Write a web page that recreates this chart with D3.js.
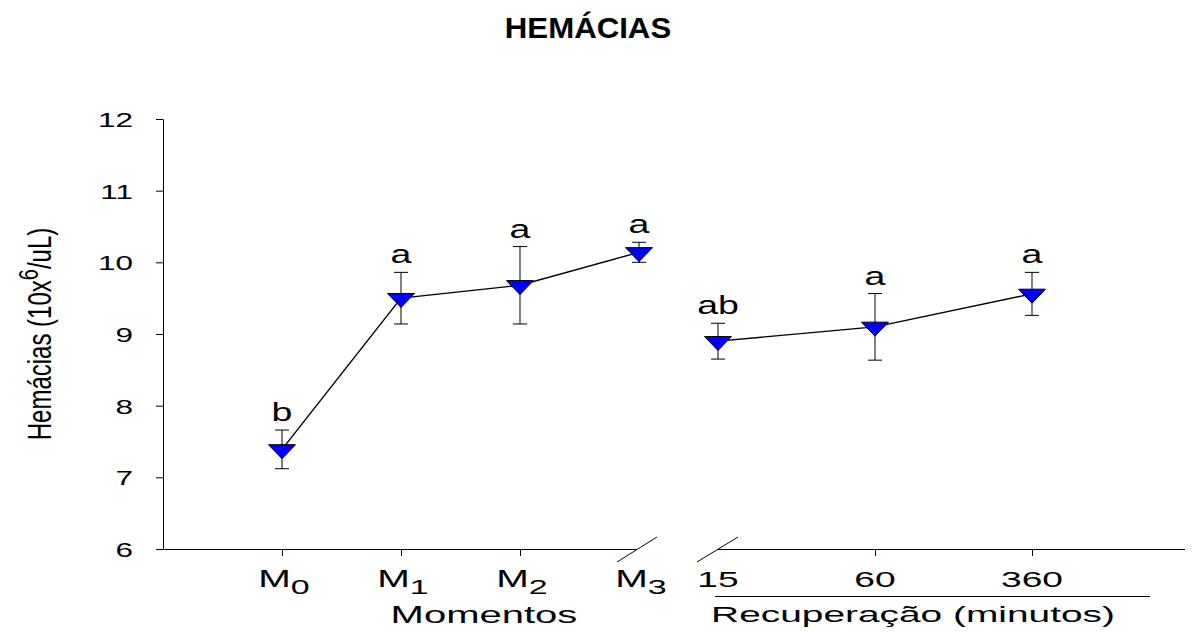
<!DOCTYPE html>
<html>
<head>
<meta charset="utf-8">
<script src="https://cdn.jsdelivr.net/npm/d3@7"></script>
<style>
  html, body { margin: 0; padding: 0; background: #fff; }
  svg { display: block; font-family: "Liberation Sans", Arial, Helvetica, sans-serif; }
</style>
</head>
<body>
<svg id="chart" width="1199" height="633"></svg>
<script>
// Hemácias: mean ± error over exercise moments and recovery times
const moments = ["M0", "M1", "M2", "M3"];
const momentSubs = ["0", "1", "2", "3"];
const momentMeans = [7.39, 9.50, 9.68, 10.14];
const momentErrs = [0.27, 0.36, 0.54, 0.14];
const momentLetters = ["b", "a", "a", "a"];

const recovery = ["15", "60", "360"];
const recoveryMeans = [8.90, 9.10, 9.56];
const recoveryErrs = [0.25, 0.465, 0.30];
const recoveryLetters = ["ab", "a", "a"];

const yTicks = [6, 7, 8, 9, 10, 11, 12];

const svg = d3.select("#chart");

// layout
const axisX = 163, axisY = 549, plotTop = 119;
const leftStart = axisX, leftEnd = 637;
const rightStart = 717, rightEnd = 1185;

const y = d3.scaleLinear().domain([6, 12]).range([axisY, plotTop]);
const xL = d3.scalePoint().domain(moments).range([282, 639]);
const xR = d3.scalePoint().domain(recovery).range([718, 1032]);

// horizontally stretched text helper
function stext(g, x, yy, str, size, sx, anchor) {
  return g.append("text")
    .attr("transform", `translate(${x},${yy}) scale(${sx},1)`)
    .attr("text-anchor", anchor || "middle")
    .attr("font-size", size)
    .attr("fill", "#000")
    .text(str);
}

// title
stext(svg, 588, 38, "HEMÁCIAS", 30, 1.04).attr("font-weight", "bold");

// y axis
const yAxis = svg.append("g")
  .attr("transform", `translate(${axisX},0)`)
  .call(d3.axisLeft(y).tickValues(yTicks).tickSize(7).tickSizeOuter(0).tickFormat(d3.format("d")));
yAxis.select(".domain").attr("stroke", "#000").attr("stroke-width", 1);
yAxis.selectAll(".tick line").attr("stroke", "#000");
yAxis.selectAll(".tick text")
  .attr("x", null).attr("dy", null)
  .attr("transform", "translate(-30,7.5) scale(1.5,1)")
  .attr("text-anchor", "end")
  .attr("font-size", 21)
  .attr("font-family", "Liberation Sans, Arial, sans-serif")
  .attr("fill", "#000");

// y axis title (rotated, glyphs widened across the baseline)
const yt = svg.append("text")
  .attr("transform", `translate(51,334) rotate(-90) scale(1,1.35)`)
  .attr("text-anchor", "middle")
  .attr("font-size", 24)
  .attr("fill", "#000");
yt.append("tspan").text("Hemácias (10x");
yt.append("tspan").attr("font-size", 20).attr("dy", -10).text("6");
yt.append("tspan").attr("dy", 10).text("/uL)");

// x axis segments
const axes = svg.append("g").attr("stroke", "#000").attr("stroke-width", 1);
axes.append("line").attr("x1", leftStart).attr("x2", leftEnd).attr("y1", axisY + 0.5).attr("y2", axisY + 0.5);
axes.append("line").attr("x1", rightStart).attr("x2", rightEnd).attr("y1", axisY + 0.5).attr("y2", axisY + 0.5);
// break marks
axes.append("line").attr("x1", 617).attr("y1", 562).attr("x2", 657).attr("y2", 537);
axes.append("line").attr("x1", 697).attr("y1", 562).attr("x2", 738).attr("y2", 537);

// ticks (the break ends carry no tick)
moments.slice(0, 3).forEach(m => {
  axes.append("line").attr("x1", xL(m) + 0.5).attr("x2", xL(m) + 0.5).attr("y1", axisY).attr("y2", axisY + 7);
});
recovery.slice(1).forEach(r => {
  axes.append("line").attr("x1", xR(r) + 0.5).attr("x2", xR(r) + 0.5).attr("y1", axisY).attr("y2", axisY + 7);
});

// x tick labels
moments.forEach((m, i) => {
  const t = svg.append("text")
    .attr("transform", `translate(${xL(m) + 2},587) scale(1.7,1)`)
    .attr("text-anchor", "middle")
    .attr("font-size", 23)
    .attr("fill", "#000");
  t.append("tspan").text("M");
  t.append("tspan").attr("font-size", 20).attr("dy", 7).text(momentSubs[i]);
});
recovery.forEach(r => stext(svg, xR(r), 587, r, 22, 1.69));

// group rule under recovery labels
svg.append("line").attr("x1", 715).attr("x2", 1150).attr("y1", 596.5).attr("y2", 596.5)
  .attr("stroke", "#000").attr("stroke-width", 1);

// group titles
stext(svg, 484, 623, "Momentos", 23, 1.74);
stext(svg, 913, 622, "Recuperação (minutos)", 23, 1.69);

// series
function drawSeries(cats, xs, means, errs, letters) {
  const pts = cats.map((c, i) => ({ x: xs(c), m: means[i], e: errs[i], l: letters[i] }));
  const g = svg.append("g");
  // error bars
  pts.forEach(p => {
    const y1 = y(p.m + p.e), y2 = y(p.m - p.e);
    g.append("line").attr("x1", p.x).attr("x2", p.x).attr("y1", y1).attr("y2", y2).attr("stroke", "#000");
    [y1, y2].forEach(yy => g.append("line").attr("x1", p.x - 7).attr("x2", p.x + 7).attr("y1", yy).attr("y2", yy).attr("stroke", "#000"));
  });
  // connecting line
  g.append("path")
    .attr("d", d3.line().x(p => p.x).y(p => y(p.m))(pts))
    .attr("fill", "none").attr("stroke", "#000").attr("stroke-width", 1.4);
  // inverted triangle markers, centroid on the mean
  pts.forEach(p => {
    const w = 27, h = 14, cy = y(p.m);
    g.append("path")
      .attr("d", `M${p.x - w / 2},${cy - h / 3}L${p.x + w / 2},${cy - h / 3}L${p.x},${cy + 2 * h / 3}Z`)
      .attr("fill", "#0000ff").attr("stroke", "#000").attr("stroke-width", 1);
  });
  // significance letters
  pts.forEach(p => stext(g, p.x, y(p.m + p.e) - 9, p.l, 25, 1.5));
}
drawSeries(moments, xL, momentMeans, momentErrs, momentLetters);
drawSeries(recovery, xR, recoveryMeans, recoveryErrs, recoveryLetters);
</script>
</body>
</html>
